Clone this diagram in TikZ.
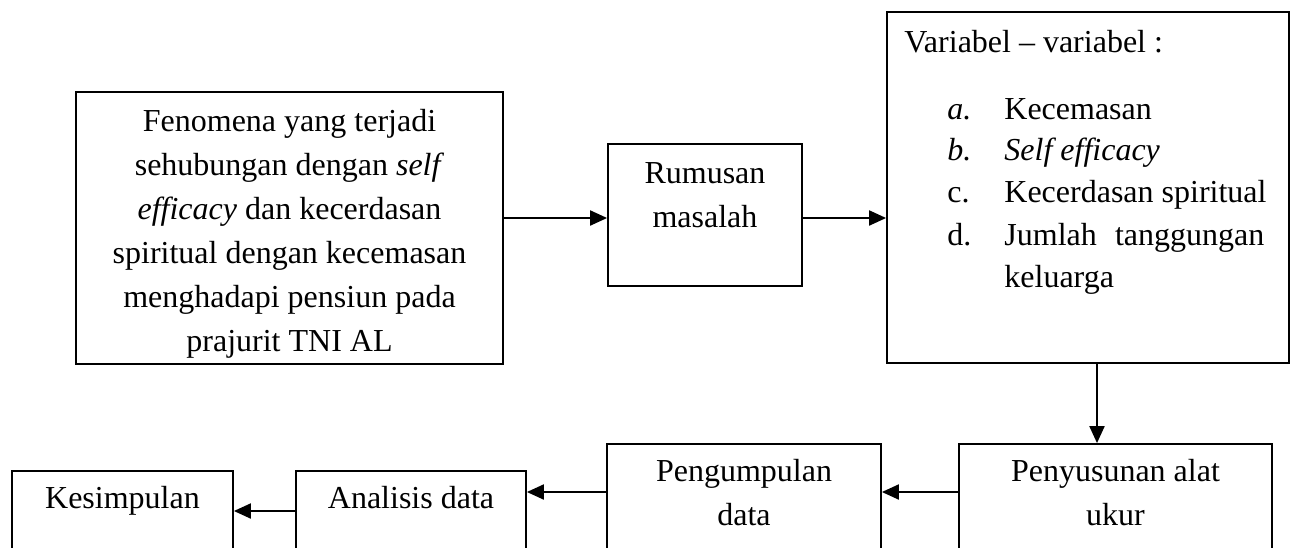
\documentclass[tikz,border=0pt]{standalone}
\usepackage{fontspec}
\setmainfont{Liberation Serif}
\usetikzlibrary{arrows.meta,calc}
\begin{document}
\begin{tikzpicture}[x=0.5pt,y=-0.5pt,
  boxst/.style={draw, line width=0.9pt, inner sep=0pt, fill=none},
  txt/.style={inner sep=0pt, font=\fontsize{16}{22}\selectfont},
  arr/.style={line width=1pt, -{Triangle[length=8.5pt,width=7.5pt]}}]
\useasboundingbox (0,0) rectangle (1296,547);
\clip (0,0) rectangle (1296,547);
% boxes
\node[boxst, minimum width=213.5pt, minimum height=136pt] (b1) at (289.5,228) {};
\node[boxst, minimum width=97pt, minimum height=71pt] (b2) at (705,215) {};
\node[boxst, minimum width=201pt, minimum height=175.5pt] (b3) at (1088,187.5) {};
\node[boxst, minimum width=156.5pt, minimum height=68pt] (b4) at (1115.5,512) {};
\node[boxst, minimum width=137pt, minimum height=68pt] (b5) at (744,512) {};
\node[boxst, minimum width=115pt, minimum height=54.5pt] (b6) at (411,525.5) {};
\node[boxst, minimum width=110.5pt, minimum height=54.5pt] (b7) at (122.5,525.5) {};
% box 1 text
\node[txt, anchor=base] (t11) at (289.5,131) {Fenomena yang terjadi};
\node[txt, anchor=base] (t12) at (289.5,175) {sehubungan dengan \textit{self}};
\node[txt, anchor=base] (t13) at (289.5,219) {\textit{efficacy} dan kecerdasan};
\node[txt, anchor=base] (t14) at (289.5,263) {spiritual dengan kecemasan};
\node[txt, anchor=base] (t15) at (289.5,307) {menghadapi pensiun pada};
\node[txt, anchor=base] (t16) at (289.5,351) {prajurit TNI AL};
% box 2 text
\node[txt, anchor=base] (t21) at (705,183) {Rumusan};
\node[txt, anchor=base] (t22) at (705,227) {masalah};
% box 3 text
\node[txt, anchor=base west] (t30) at (904,52) {Variabel – variabel :};
\node[txt, anchor=base west] (l31) at (947,119) {\textit{a.}};
\node[txt, anchor=base west] (t31) at (1004,119) {Kecemasan};
\node[txt, anchor=base west] (l32) at (947,160) {\textit{b.}};
\node[txt, anchor=base west] (t32) at (1004,160) {\textit{Self efficacy}};
\node[txt, anchor=base west] (l33) at (947,202) {c.};
\node[txt, anchor=base west] (t33) at (1004,202) {Kecerdasan spiritual};
\node[txt, anchor=base west] (l34) at (947,245) {d.};
\node[txt, anchor=base west] (t34) at (1004,245) {\hbox to 130pt{Jumlah\hfill tanggungan}};
\node[txt, anchor=base west] (t35) at (1004,287) {keluarga};
% bottom texts
\node[txt, anchor=base] (t41) at (1115.5,481) {Penyusunan alat};
\node[txt, anchor=base] (t42) at (1115.5,525) {ukur};
\node[txt, anchor=base] (t51) at (744,481) {Pengumpulan};
\node[txt, anchor=base] (t52) at (744,525) {data};
\node[txt, anchor=base] (t61) at (411,508) {Analisis data};
\node[txt, anchor=base] (t71) at (122.5,508) {Kesimpulan};
% connector helpers
\coordinate (ya) at (0,218);
\coordinate (yb) at (0,492);
\coordinate (yc) at (0,511);
\coordinate (xa) at (1097,0);
% connectors
\draw[arr] (b1.east |- ya) -- (b2.west |- ya);
\draw[arr] (b2.east |- ya) -- (b3.west |- ya);
\draw[arr] (b3.south -| xa) -- (b4.north -| xa);
\draw[arr] (b4.west |- yb) -- (b5.east |- yb);
\draw[arr] (b5.west |- yb) -- (b6.east |- yb);
\draw[arr] (b6.west |- yc) -- (b7.east |- yc);
\end{tikzpicture}
\end{document}
